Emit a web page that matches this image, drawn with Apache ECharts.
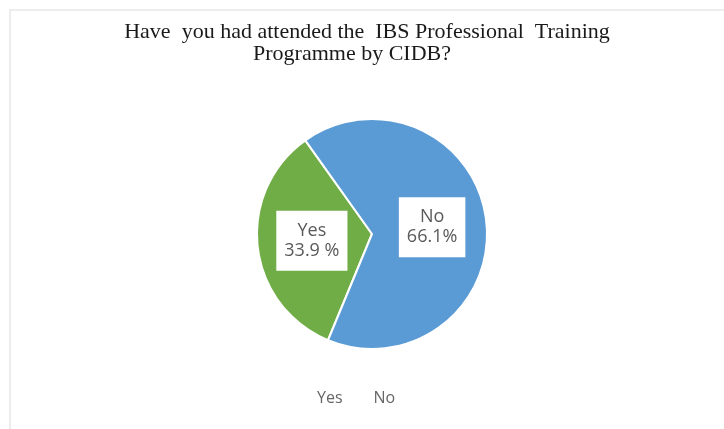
<!DOCTYPE html>
<html>
<head>
<meta charset="utf-8">
<script src="https://cdn.jsdelivr.net/npm/echarts@6/dist/echarts.min.js"></script>
<style>
  html, body { margin: 0; padding: 0; background: #fff; }
  #chart { width: 724px; height: 429px; }
</style>
</head>
<body>
<div id="chart"></div>
<script>
// answers and their shares (%)
const answers = ['Yes', 'No'];
const shares = [33.9, 66.1];
const shareTexts = ['33.9 %', '66.1%'];
const colors = ['#70AD47', '#5B9BD5'];

const titleLines = [
  'Have  you had attended the  IBS Professional  Training',
  'Programme by CIDB?'
];

let myChart = echarts.init(document.getElementById('chart'));

let option = {
  backgroundColor: '#fff',
  animation: false,
  title: [
    {
      text: titleLines[0],
      left: 362,
      top: 16,
      textAlign: 'center',
      textStyle: { fontFamily: 'Liberation Serif', fontSize: 22, fontWeight: 'normal', color: '#1a1a1a' }
    },
    {
      text: titleLines[1],
      left: 347,
      top: 38,
      textAlign: 'center',
      textStyle: { fontFamily: 'Liberation Serif', fontSize: 22, fontWeight: 'normal', color: '#1a1a1a' }
    }
  ],
  legend: {
    data: answers,
    left: 293,
    top: 385,
    itemWidth: 14,
    itemHeight: 10,
    itemGap: 12,
    icon: 'rect',
    itemStyle: { color: 'transparent', borderWidth: 0 },
    textStyle: { fontFamily: 'Open Sans', fontSize: 16, color: '#666' }
  },
  graphic: [
    {
      type: 'rect',
      shape: { x: 10, y: 10, width: 900, height: 600 },
      style: { fill: 'none', stroke: '#e8e8e8', lineWidth: 1.5 },
      silent: true
    }
  ],
  series: [
    {
      type: 'pie',
      center: [372, 234],
      radius: 115,
      startAngle: 247.5,
      clockwise: true,
      itemStyle: { borderColor: '#fff', borderWidth: 2 },
      label: {
        position: 'inside',
        formatter: function (p) {
          return p.name + '\n' + shareTexts[p.dataIndex];
        },
        backgroundColor: '#fff',
        padding: [10, 8],
        fontFamily: 'Open Sans',
        fontSize: 18,
        lineHeight: 20,
        color: '#595959'
      },
      labelLine: { show: false },
      emphasis: { disabled: true },
      data: answers.map(function (a, i) {
        return { name: a, value: shares[i], itemStyle: { color: colors[i] } };
      })
    }
  ]
};

myChart.setOption(option);
</script>
</body>
</html>
